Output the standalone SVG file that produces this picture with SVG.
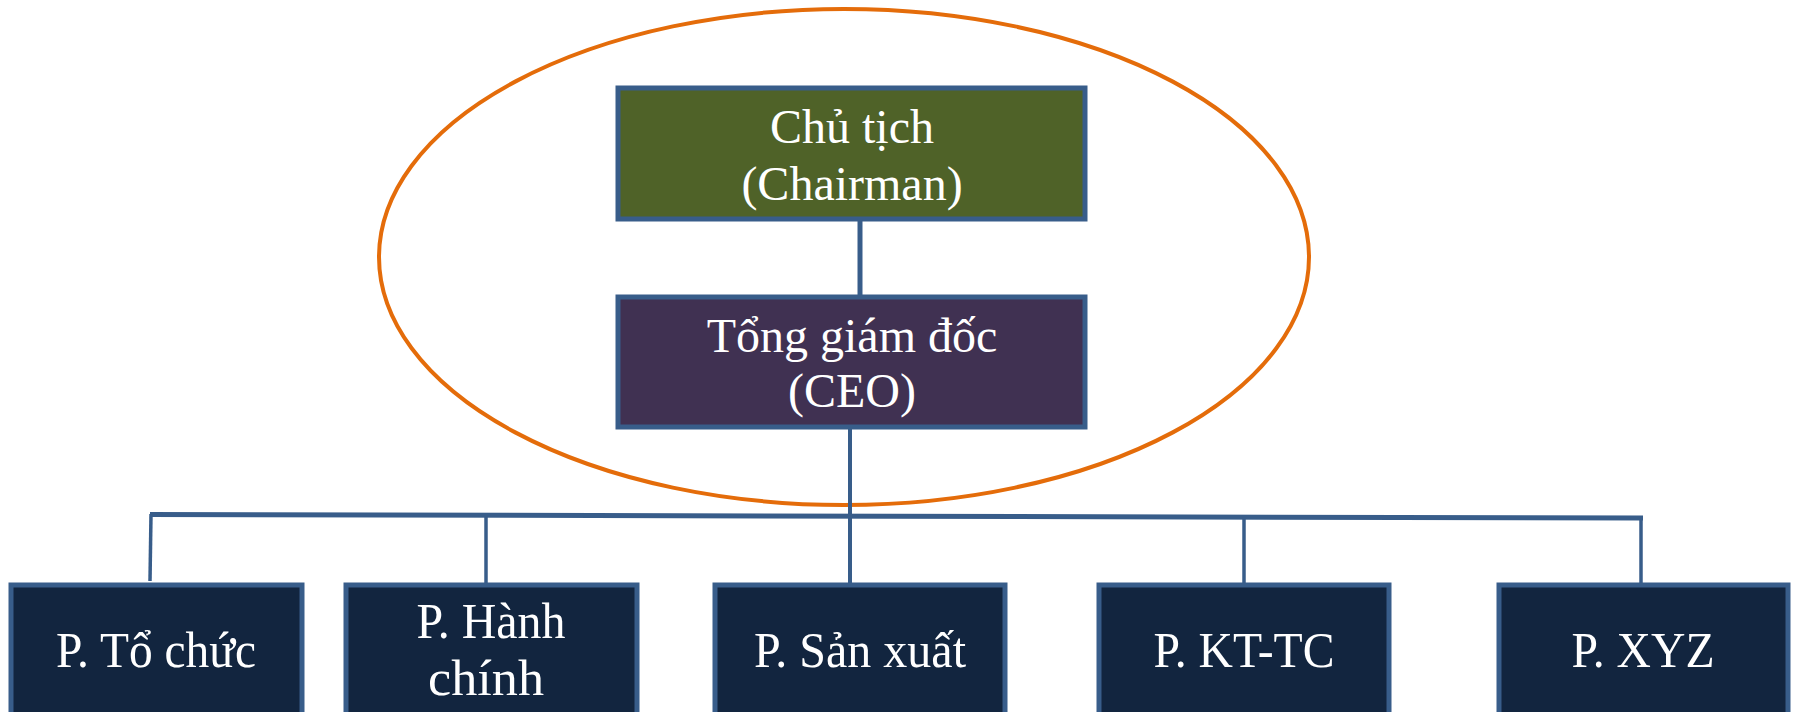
<svg xmlns="http://www.w3.org/2000/svg" width="1793" height="712" viewBox="0 0 1793 712">
  <style>
    .box { stroke: #385D8A; stroke-width: 5; }
    .lead { fill: #4F6228; }
    .ceo { fill: #403152; }
    .dept { fill: #12253F; }
    .label { font-family: "Liberation Serif", "Times New Roman", serif; fill: #FFFFFF; text-anchor: middle; }
    .top { font-size: 48px; }
    .low { font-size: 50px; }
    .wire { stroke: #385D8A; fill: none; stroke-linecap: butt; }
  </style>
  <rect width="1793" height="712" fill="#FFFFFF"/>

  <!-- management circle -->
  <ellipse id="management-ring" cx="844" cy="257" rx="465" ry="248" fill="none" stroke="#E46C0A" stroke-width="4"/>

  <g id="chairman">
    <rect class="box lead" x="618" y="88" width="467" height="131"/>
    <text class="label top" x="852" y="143">Chủ tịch</text>
    <text class="label top" x="852" y="200">(Chairman)</text>
  </g>

  <g id="ceo">
    <rect class="box ceo" x="618" y="297" width="467" height="130"/>
    <text class="label top" x="852" y="352">Tổng giám đốc</text>
    <text class="label top" x="852" y="407">(CEO)</text>
  </g>

  <g id="connectors">
    <line class="wire" x1="860" y1="219" x2="860" y2="297" stroke-width="5"/>
    <line class="wire" x1="850" y1="427" x2="850" y2="585" stroke-width="4"/>
    <line class="wire" x1="150" y1="514.5" x2="1643" y2="518" stroke-width="5"/>
    <line class="wire" x1="151" y1="514" x2="150" y2="581" stroke-width="3.5"/>
    <line class="wire" x1="486" y1="515" x2="486" y2="585" stroke-width="3.5"/>
    <line class="wire" x1="1244" y1="517" x2="1244" y2="585" stroke-width="3.5"/>
    <line class="wire" x1="1641" y1="518" x2="1641" y2="585" stroke-width="3.5"/>
  </g>

  <g id="dept-to-chuc">
    <rect class="box dept" x="11" y="585" width="291" height="140"/>
    <text class="label low" x="156" y="667" textLength="200" lengthAdjust="spacingAndGlyphs">P. Tổ chức</text>
  </g>

  <g id="dept-hanh-chinh">
    <rect class="box dept" x="346" y="585" width="291" height="140"/>
    <text class="label low" x="491" y="638" textLength="149" lengthAdjust="spacingAndGlyphs">P. Hành</text>
    <text class="label low" x="486" y="695" textLength="116" lengthAdjust="spacingAndGlyphs">chính</text>
  </g>

  <g id="dept-san-xuat">
    <rect class="box dept" x="715" y="585" width="290" height="140"/>
    <text class="label low" x="860" y="667" textLength="212" lengthAdjust="spacingAndGlyphs">P. Sản xuất</text>
  </g>

  <g id="dept-kt-tc">
    <rect class="box dept" x="1099" y="585" width="290" height="140"/>
    <text class="label low" x="1244" y="667" textLength="181" lengthAdjust="spacingAndGlyphs">P. KT-TC</text>
  </g>

  <g id="dept-xyz">
    <rect class="box dept" x="1499" y="585" width="289" height="140"/>
    <text class="label low" x="1643" y="667" textLength="143" lengthAdjust="spacingAndGlyphs">P. XYZ</text>
  </g>
</svg>
